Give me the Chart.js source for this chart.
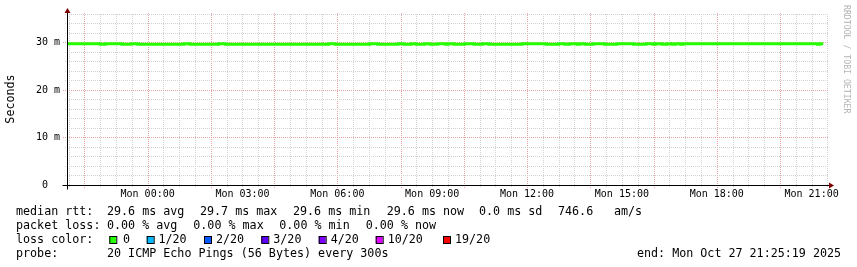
<!DOCTYPE html>
<html>
<head>
<meta charset="utf-8">
<title>smokeping</title>
<script src="https://cdn.jsdelivr.net/npm/chart.js@4.4.1/dist/chart.umd.min.js"></script>
<style>
  html, body { margin: 0; padding: 0; background: #fff; }
  #wrap { width: 857px; height: 267px; }
</style>
</head>
<body>
<div id="wrap"><canvas id="myChart" width="857" height="267"></canvas></div>
<script>
// median rtt, hours counted from Mon 00:00, each point holds until the next one
const rttHours = [-2.55, -1.49, -1.34, -0.81, -0.53, -0.31, 1.15, 1.34, 2.24, 2.46,
  5.72, 5.93, 7.02, 7.28, 7.92, 8.11, 8.34, 8.49, 8.76, 8.93,
  9.16, 9.43, 9.50, 9.69, 10.02, 10.33, 10.59, 10.80, 11.84, 12.61,
  13.00, 13.19, 13.35, 13.58, 13.67, 13.83, 14.09, 14.45, 14.84, 15.37,
  15.76, 15.99, 16.07, 16.27, 16.43, 16.58, 16.69, 16.86, 16.94, 21.19,
  21.26, 21.37];
const rttMedian = [29.72, 29.6, 29.72, 29.6, 29.72, 29.6, 29.72, 29.6, 29.72, 29.6,
  29.72, 29.6, 29.72, 29.6, 29.72, 29.6, 29.72, 29.6, 29.72, 29.6,
  29.72, 29.6, 29.72, 29.6, 29.72, 29.6, 29.72, 29.6, 29.72, 29.6,
  29.72, 29.6, 29.72, 29.6, 29.72, 29.6, 29.72, 29.6, 29.72, 29.6,
  29.72, 29.6, 29.72, 29.6, 29.72, 29.6, 29.72, 29.6, 29.72, 29.6,
  29.72, 29.72];

const xTickHours = [0, 3, 6, 9, 12, 15, 18, 21];
const xTickLabels = ['Mon 00:00', 'Mon 03:00', 'Mon 06:00', 'Mon 09:00',
  'Mon 12:00', 'Mon 15:00', 'Mon 18:00', 'Mon 21:00'];
const yTickValues = [0, 10, 20, 30];
const yTickLabels = ['0  ', '10 m', '20 m', '30 m'];

const rttStats = ['median rtt:', '29.6 ms avg', '29.7 ms max', '29.6 ms min',
  '29.6 ms now', '0.0 ms sd', '746.6', 'am/s'];
const lossStats = ['packet loss:', '0.00 % avg', '0.00 % max', '0.00 % min', '0.00 % now'];
const lossLabels = ['0', '1/20', '2/20', '3/20', '4/20', '10/20', '19/20'];
const lossColors = ['#26ff00', '#00b8ff', '#0059ff', '#5e00ff', '#7e00ff', '#dd00ff', '#ff0000'];
const probeText = ['probe:', '20 ICMP Echo Pings (56 Bytes) every 300s'];
const endText = 'end: Mon Oct 27 21:25:19 2025';

// styles and text layout below the graph
const MONO = "'DejaVu Sans Mono', monospace";
const GRID = '#d2d2d2';
const MGRID = '#eaa3a3';
const rttX = [16, 107, 200, 293, 386.7, 479, 558, 614];
const lossX = [16, 107, 193.3, 279.3, 365.7];
const swatchX = [109.3, 146.7, 204, 261.3, 318.7, 375.7, 443];
const swatchLabelX = [123, 158.5, 216, 273.3, 330.7, 387.7, 455];

function isMajor(v, step) {
  return Math.abs(v / step - Math.round(v / step)) < 1e-6;
}

// dotted rrdtool grid, taken from the scale ticks
const rrdGrid = {
  id: 'rrdGrid',
  beforeDatasetsDraw: function (chart) {
    const ctx = chart.ctx;
    const xs = chart.scales.x, ys = chart.scales.y;
    const a = chart.chartArea;
    ctx.save();
    ctx.lineWidth = 1;
    ctx.setLineDash([1, 1]);
    xs.ticks.forEach(function (t) {
      const px = Math.round(xs.getPixelForValue(t.value)) + 0.5;
      const major = isMajor(t.value, 2);
      ctx.strokeStyle = major ? MGRID : GRID;
      ctx.beginPath();
      ctx.moveTo(px, a.bottom + (major ? 3 : 2));
      ctx.lineTo(px, a.top);
      ctx.stroke();
    });
    ys.ticks.forEach(function (t) {
      const py = Math.round(ys.getPixelForValue(t.value)) + 0.5;
      const major = isMajor(t.value, 10);
      ctx.strokeStyle = major ? MGRID : GRID;
      ctx.beginPath();
      ctx.moveTo(a.left - (major ? 4 : 2), py);
      ctx.lineTo(a.right, py);
      ctx.stroke();
    });
    ctx.restore();
  }
};

// axes, arrows and the text block (rrdtool look)
const rrdDecor = {
  id: 'rrdDecor',
  afterDraw: function (chart) {
    const ctx = chart.ctx;
    const xs = chart.scales.x, ys = chart.scales.y;
    const x0 = Math.round(xs.left) + 0.5;
    const y0 = Math.round(ys.getPixelForValue(0)) + 0.5;
    const xr = Math.round(xs.right);
    const yt = Math.round(ys.top);

    ctx.save();
    ctx.lineWidth = 1;
    // axis lines
    ctx.strokeStyle = '#000';
    ctx.beginPath();
    ctx.moveTo(x0 - 5, y0);
    ctx.lineTo(xr, y0);
    ctx.moveTo(x0, y0 + 4);
    ctx.lineTo(x0, yt - 2);
    ctx.stroke();

    // arrows
    ctx.fillStyle = '#7f0000';
    ctx.beginPath();
    ctx.moveTo(xr, y0 - 3);
    ctx.lineTo(xr, y0 + 3);
    ctx.lineTo(xr + 5, y0);
    ctx.closePath();
    ctx.fill();
    ctx.beginPath();
    ctx.moveTo(x0 - 3, yt);
    ctx.lineTo(x0 + 3, yt);
    ctx.lineTo(x0, yt - 5);
    ctx.closePath();
    ctx.fill();

    // text block
    ctx.fillStyle = '#000';
    ctx.font = '11.7px ' + MONO;
    ctx.textBaseline = 'alphabetic';
    ctx.textAlign = 'left';
    rttStats.forEach(function (s, i) { ctx.fillText(s, rttX[i], 214.5); });
    lossStats.forEach(function (s, i) { ctx.fillText(s, lossX[i], 228.7); });
    ctx.fillText('loss color:', 16, 242.8);
    lossLabels.forEach(function (s, i) {
      ctx.fillStyle = lossColors[i];
      ctx.fillRect(swatchX[i], 236, 7, 7);
      ctx.strokeStyle = '#000';
      ctx.strokeRect(swatchX[i] + 0.5, 236.5, 7, 7);
      ctx.fillStyle = '#000';
      ctx.fillText(s, swatchLabelX[i], 242.8);
    });
    ctx.fillText(probeText[0], 16, 257);
    ctx.fillText(probeText[1], 107, 257);
    ctx.fillText(endText, 637, 257);

    // watermark
    ctx.translate(846, 5);
    ctx.rotate(Math.PI / 2);
    ctx.fillStyle = '#b4b4b4';
    ctx.font = '8.2px ' + MONO;
    ctx.textBaseline = 'middle';
    ctx.fillText('RRDTOOL / TOBI OETIKER', 0, 0);
    ctx.restore();
  }
};

const data = {
  datasets: [{
    label: 'median rtt',
    data: rttHours.map(function (h, i) { return {x: h, y: rttMedian[i]}; }),
    borderColor: lossColors[0],
    backgroundColor: lossColors[0],
    borderWidth: 3,
    stepped: true,
    pointRadius: 0,
    fill: false
  }]
};

const config = {
  type: 'line',
  data: data,
  plugins: [rrdGrid, rrdDecor],
  options: {
    responsive: false,
    animation: false,
    events: [],
    layout: {padding: {left: 0, right: 28, top: 13, bottom: 62}},
    plugins: {legend: {display: false}, tooltip: {enabled: false}},
    scales: {
      x: {
        type: 'linear',
        min: -2.55,
        max: 21.55,
        afterFit: function (s) { s.height = 20; },
        grid: {display: false, drawTicks: false},
        border: {display: false},
        ticks: {
          stepSize: 0.5,
          autoSkip: false,
          includeBounds: false,
          maxRotation: 0,
          padding: 3,
          color: '#000',
          font: {family: MONO, size: 10},
          callback: function (v) {
            const i = xTickHours.indexOf(v);
            return i >= 0 ? xTickLabels[i] : '';
          }
        }
      },
      y: {
        min: 0,
        max: 36.2,
        afterFit: function (s) { s.width = 67; },
        grid: {display: false, drawTicks: false},
        border: {display: false},
        title: {
          display: true,
          text: 'Seconds',
          color: '#000',
          font: {family: MONO, size: 11.7},
          padding: {top: 4, bottom: 0}
        },
        ticks: {
          stepSize: 2,
          autoSkip: false,
          includeBounds: false,
          padding: 7,
          color: '#000',
          font: {family: MONO, size: 10},
          callback: function (v) {
            const i = yTickValues.indexOf(v);
            return i >= 0 ? yTickLabels[i] : '';
          }
        }
      }
    }
  }
};

const ctx = document.getElementById('myChart').getContext('2d');
const chart = new Chart(ctx, config);
</script>
</body>
</html>
